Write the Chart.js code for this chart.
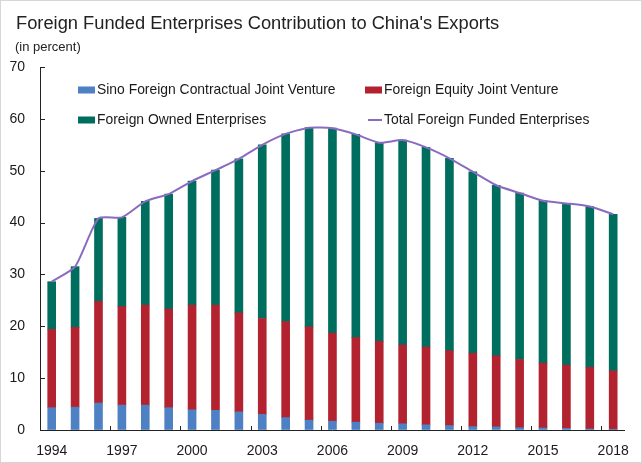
<!DOCTYPE html>
<html>
<head>
<meta charset="utf-8">
<script src="https://cdn.jsdelivr.net/npm/chart.js@4/dist/chart.umd.min.js"></script>
<style>
  html, body { margin: 0; padding: 0; background: #fff; }
  #wrap { width: 642px; height: 463px; }
</style>
</head>
<body>
<div id="wrap"><canvas id="mycanvas" width="642" height="463"></canvas></div>
<script>
// data (percent of China's exports)
var years = ['1994','1995','1996','1997','1998','1999','2000','2001','2002','2003','2004','2005',
             '2006','2007','2008','2009','2010','2011','2012','2013','2014','2015','2016','2017','2018'];

var sinoContractual = [4.3, 4.4, 5.2, 4.8, 4.8, 4.3, 3.9, 3.8, 3.5, 3.0, 2.4, 1.9,
                       1.7, 1.5, 1.3, 1.2, 1.0, 0.85, 0.65, 0.6, 0.45, 0.4, 0.3, 0.2, 0.15];
var equityJV = [15.1, 15.4, 19.6, 19.0, 19.3, 19.0, 20.2, 20.3, 19.1, 18.5, 18.5, 18.0,
                17.0, 16.3, 15.8, 15.2, 15.0, 14.45, 14.15, 13.7, 13.15, 12.5, 12.2, 11.9, 11.25];
var foreignOwned = [9.2, 11.7, 16.0, 17.2, 20.0, 22.2, 23.9, 26.0, 29.7, 33.5, 36.2, 38.4,
                    39.5, 39.2, 38.3, 39.5, 38.5, 37.1, 35.0, 32.9, 32.1, 31.3, 31.2, 31.0, 30.2];
var totalFFE = [28.6, 31.5, 40.8, 41.0, 44.1, 45.5, 48.0, 50.1, 52.3, 55.0, 57.1, 58.3,
                58.2, 57.0, 55.4, 55.9, 54.5, 52.4, 49.8, 47.2, 45.7, 44.2, 43.7, 43.1, 41.6];

var yTicks = [0, 10, 20, 30, 40, 50, 60, 70];

var titleText = "Foreign Funded Enterprises Contribution to China's Exports";
var subtitleText = '(in percent)';

var FONT = 'Arial, "Liberation Sans", sans-serif';

// titles, small inward tick marks, a legend inside the plot, and a thin frame
var extras = {
  id: 'extras',
  beforeDraw: function(chart) {
    var c = chart.ctx;
    c.save();
    c.fillStyle = '#fff';
    c.fillRect(0, 0, chart.width, chart.height);
    c.strokeStyle = '#d6d6d6';
    c.lineWidth = 1;
    c.strokeRect(0.5, 0.5, chart.width - 1, chart.height - 1);

    c.fillStyle = '#222';
    c.textAlign = 'left';
    c.textBaseline = 'alphabetic';
    c.font = '18.3px ' + FONT;
    c.fillText(titleText, 16, 29);
    c.font = '13px ' + FONT;
    c.fillText(subtitleText, 15, 51);
    c.restore();
  },
  afterDraw: function(chart) {
    var c = chart.ctx;
    var xs = chart.scales.x, ys = chart.scales.y;
    var area = chart.chartArea;
    c.save();
    c.strokeStyle = '#222';
    c.lineWidth = 1;
    c.beginPath();
    yTicks.forEach(function(v) {
      var py = Math.round(ys.getPixelForValue(v)) + 0.5;
      c.moveTo(area.left, py);
      c.lineTo(area.left + 5, py);
    });
    for (var i = 3; i < years.length; i += 3) {
      var px = Math.round((xs.getPixelForValue(i - 1) + xs.getPixelForValue(i)) / 2) + 0.5;
      c.moveTo(px, area.bottom);
      c.lineTo(px, area.bottom - 4);
    }
    c.stroke();

    // legend
    var ds = chart.data.datasets;
    var slots = [
      { i: 0, x: area.left + 38, y: area.top + 23 },
      { i: 1, x: area.left + 325, y: area.top + 23 },
      { i: 2, x: area.left + 38, y: area.top + 53 },
      { i: 3, x: area.left + 325, y: area.top + 53 }
    ];
    c.font = '13.9px ' + FONT;
    c.textBaseline = 'middle';
    c.textAlign = 'left';
    slots.forEach(function(s) {
      var d = ds[s.i];
      if (d.type === 'line') {
        c.strokeStyle = d.borderColor;
        c.lineWidth = 2;
        c.beginPath();
        c.moveTo(s.x + 3, s.y);
        c.lineTo(s.x + 17, s.y);
        c.stroke();
      } else {
        c.fillStyle = d.backgroundColor;
        c.fillRect(s.x, s.y - 3.5, 17, 7);
      }
      c.fillStyle = '#1a1a1a';
      c.fillText(d.label, s.x + 19, s.y);
    });
    c.restore();
  }
};

var chartdata = {
  labels: years,
  datasets: [
    {
      label: 'Sino Foreign Contractual Joint Venture',
      data: sinoContractual,
      backgroundColor: '#4e80c4',
      stack: 'bars',
      order: 1
    },
    {
      label: 'Foreign Equity Joint Venture',
      data: equityJV,
      backgroundColor: '#b3232f',
      stack: 'bars',
      order: 1
    },
    {
      label: 'Foreign Owned Enterprises',
      data: foreignOwned,
      backgroundColor: '#006e5e',
      stack: 'bars',
      order: 1
    },
    {
      type: 'line',
      label: 'Total Foreign Funded Enterprises',
      data: totalFFE,
      borderColor: '#8a6bbf',
      borderWidth: 2,
      pointRadius: 0,
      tension: 0.2,
      fill: false,
      stack: 'total',
      order: 0
    }
  ]
};

new Chart(document.getElementById('mycanvas'), {
  type: 'bar',
  data: chartdata,
  plugins: [extras],
  options: {
    responsive: false,
    animation: false,
    datasets: { bar: { barThickness: 8 } },
    layout: { padding: { left: 0, right: 12, top: 67, bottom: 3 } },
    plugins: {
      legend: { display: false },
      tooltip: { enabled: false },
      title: { display: false },
      subtitle: { display: false }
    },
    scales: {
      x: {
        stacked: true,
        afterFit: function(scale) { scale.height = 30; },
        grid: { display: false, drawTicks: false },
        border: { display: true, color: '#222', width: 1 },
        ticks: {
          autoSkip: false,
          maxRotation: 0,
          padding: 13,
          color: '#1a1a1a',
          font: { family: FONT, size: 14 },
          callback: function(val, idx) { return idx % 3 === 0 ? years[idx] : ''; }
        }
      },
      y: {
        stacked: true,
        min: 0,
        max: 70,
        afterFit: function(scale) { scale.width = 40; },
        grid: { drawOnChartArea: false, drawTicks: false },
        border: { display: true, color: '#222', width: 1 },
        ticks: {
          stepSize: 10,
          padding: 15,
          color: '#1a1a1a',
          font: { family: FONT, size: 14 }
        }
      }
    }
  }
});
</script>
</body>
</html>
